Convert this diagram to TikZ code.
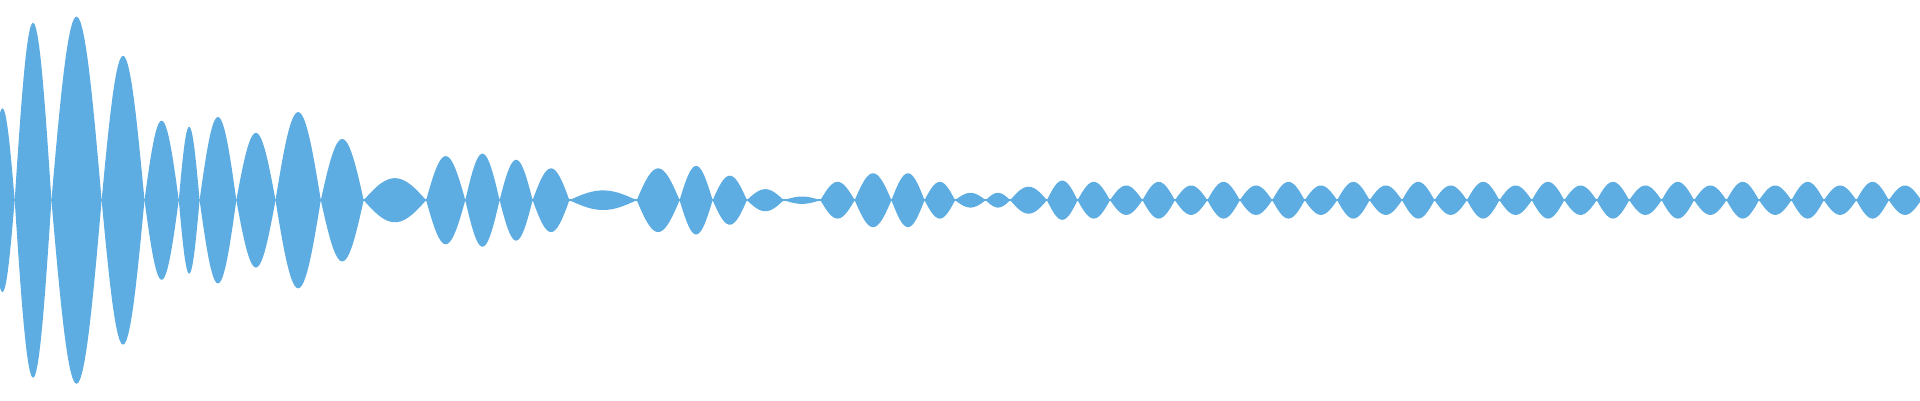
\documentclass[tikz,border=0pt]{standalone}
\definecolor{wave}{RGB}{93,173,226}
\begin{document}
\begin{tikzpicture}[x=1pt,y=1pt]
\useasboundingbox (0,-163.5) rectangle (1568,163.5);
\clip (0,-163.5) rectangle (1568,163.5);
\fill[wave] (0,-0.8) rectangle (1568,0.8);
\foreach \a/\b/\h in {-8/12/75,12/42/145,42/83/150,83/118/118,118/146/65,146/163/60,163/193/68,193/225/55,225/262/72,262/297/50,297/348/18,348/380/36,380/408/38,408/435/33,435/465/26,465/520/8,520/555/26,555/582/28,582/610/20,610/640/9,640/670/3,670/698/15,698/728/22,728/755/22,755/780/15,780/805/6,805/825/6,825/855/11,855/880/16}{
  \fill[wave] plot[domain=0:180,samples=25,variable=\t] ({\a+(\b-\a)*\t/180},{\h*sin(\t)})
     -- plot[domain=180:0,samples=25,variable=\t] ({\a+(\b-\a)*\t/180},{-\h*sin(\t)}) -- cycle;
}
\foreach \i in {0,...,26}{
  \pgfmathsetmacro\a{880+26.5*\i}
  \pgfmathsetmacro\b{\a+26.5}
  \pgfmathsetmacro\h{mod(\i,2)==0 ? 15 : 12}
  \fill[wave] plot[domain=0:180,samples=19,variable=\t] ({\a+(\b-\a)*\t/180},{\h*sin(\t)})
     -- plot[domain=180:0,samples=19,variable=\t] ({\a+(\b-\a)*\t/180},{-\h*sin(\t)}) -- cycle;
}
\end{tikzpicture}
\end{document}
